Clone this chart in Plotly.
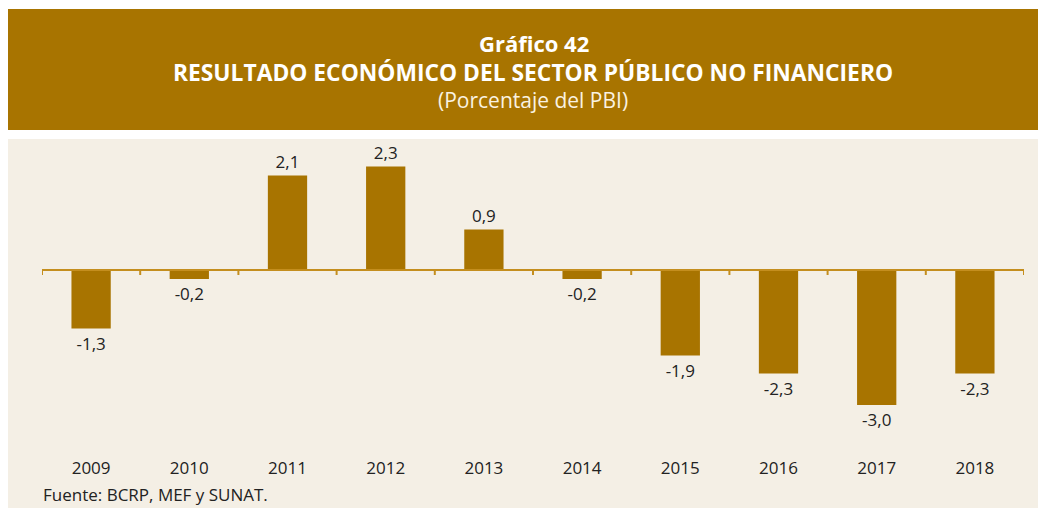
import plotly.graph_objects as go

years = ["2009", "2010", "2011", "2012", "2013", "2014", "2015", "2016", "2017", "2018"]
values = [-1.3, -0.2, 2.1, 2.3, 0.9, -0.2, -1.9, -2.3, -3.0, -2.3]
labels = [f"{v:.1f}".replace(".", ",") for v in values]

OFF = 8  # default body margin of the html page
W, H = 1046 - OFF, 508 - OFF
GOLD = "rgb(168,116,0)"
BEIGE = "rgb(244,239,229)"
LINE = "rgb(196,142,30)"
TXT = "#222222"
FONT = "Open Sans"


def px(x):
    return max(0.0, min(1.0, (x - OFF) / W))


def py(y):
    return max(0.0, min(1.0, 1 - (y - OFF) / H))


fig = go.Figure()
fig.add_trace(go.Bar(
    x=list(range(len(years))), y=values, width=0.4,
    marker=dict(color=GOLD, line=dict(width=0)),
    text=labels, textposition="outside", cliponaxis=False,
    textfont=dict(family=FONT, size=17, color=TXT),
    hoverinfo="skip",
))

shapes = [
    dict(type="rect", xref="paper", yref="paper", x0=px(7), x1=1.0, y0=py(130), y1=py(9),
         fillcolor=GOLD, line=dict(width=0), layer="below"),
    dict(type="rect", xref="paper", yref="paper", x0=px(7), x1=1.0, y0=0, y1=py(139),
         fillcolor=BEIGE, line=dict(width=0), layer="below"),
    dict(type="line", xref="x", yref="y", x0=-0.5, x1=len(years) - 0.5, y0=0, y1=0,
         line=dict(color=LINE, width=2), layer="above"),
]
for i in range(len(years) + 1):
    shapes.append(dict(type="line", xref="x", yref="y", ysizemode="pixel", yanchor=0,
                       x0=i - 0.5, x1=i - 0.5, y0=0, y1=-5,
                       line=dict(color=LINE, width=2)))

annotations = [
    dict(text="<b>Gráfico 42</b>", x=px(534), y=py(43), xref="paper", yref="paper",
         xanchor="center", yanchor="middle", showarrow=False,
         font=dict(family=FONT, size=22, color="white")),
    dict(text="<b>RESULTADO ECONÓMICO DEL SECTOR PÚBLICO NO FINANCIERO</b>", x=px(533), y=py(72),
         xref="paper", yref="paper", xanchor="center", yanchor="middle", showarrow=False,
         font=dict(family=FONT, size=22.8, color="white")),
    dict(text="(Porcentaje del PBI)", x=px(533), y=py(100), xref="paper", yref="paper",
         xanchor="center", yanchor="middle", showarrow=False,
         font=dict(family=FONT, size=21, color="rgb(250,242,225)")),
    dict(text="Fuente: BCRP, MEF y SUNAT.", x=px(41), y=py(494), xref="paper", yref="paper",
         xanchor="left", yanchor="middle", showarrow=False,
         font=dict(family=FONT, size=17, color=TXT)),
]

top_px, bot_px, zero_px, scale = 145, 456, 270, 45.0
fig.update_layout(
    width=W, height=H, margin=dict(l=0, r=0, t=0, b=0),
    paper_bgcolor="white", plot_bgcolor="rgba(0,0,0,0)",
    showlegend=False, shapes=shapes, annotations=annotations,
    xaxis=dict(domain=[px(42), px(1024)], range=[-0.5, len(years) - 0.5],
               tickmode="array", tickvals=list(range(len(years))), ticktext=years,
               showgrid=False, zeroline=False, showline=False, ticks="",
               tickfont=dict(family=FONT, size=17, color=TXT)),
    yaxis=dict(domain=[py(bot_px), py(top_px)],
               range=[-(bot_px - zero_px) / scale, (zero_px - top_px) / scale],
               visible=False, showgrid=False, zeroline=False),
)
fig.write_html("out.html")
